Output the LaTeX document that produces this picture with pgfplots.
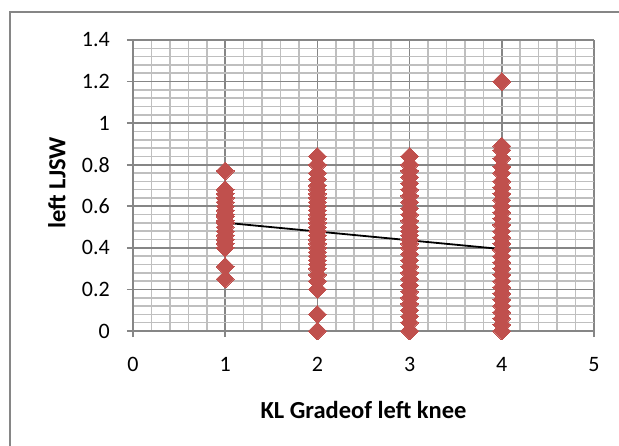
\documentclass[border=0pt]{standalone}
\usepackage{pgfplots}
\pgfplotsset{compat=1.18}
\usepackage{fontspec}
\setmainfont{Carlito}
\definecolor{mk}{HTML}{C0504D}
\definecolor{gmaj}{HTML}{868686}
\definecolor{gmin}{HTML}{BFBFBF}
\begin{document}
\begin{tikzpicture}
\useasboundingbox (-133bp,-115bp) rectangle (486bp,331bp);
\draw[gmaj, line width=1.5bp] (-123bp,-140bp) -- (-123bp,319bp) -- (520bp,319bp);
\begin{axis}[
  at={(0,0)}, anchor=south west,
  scale only axis, width=461bp, height=291bp,
  xmin=0, xmax=5, ymin=0, ymax=1.4,
  xtick={0,1,...,5}, ytick={0,0.2,...,1.4},
  minor x tick num=4, minor y tick num=4,
  grid=both,
  major grid style={gmaj, line width=1.6bp},
  minor grid style={gmin, line width=1.6bp},
  axis line style={gmaj, line width=1.6bp},
  axis lines*=left,
  tick align=outside, major tick length=6bp, minor tick length=0pt,
  tick style={gmaj, line width=1.6bp},
  /pgf/number format/assume math mode=true,
  yticklabel style={font=\fontsize{22bp}{26bp}\selectfont, anchor=east, inner sep=0pt, xshift=-17bp},
  xticklabel style={font=\fontsize{22bp}{26bp}\selectfont, anchor=north, inner sep=0pt, yshift=-20bp},
  xlabel={KL Gradeof left knee}, ylabel={left LJSW},
  xlabel style={font=\fontsize{24.5bp}{28bp}\selectfont\bfseries, at={(axis description cs:0.5,-0.271)}, anchor=center},
  ylabel style={font=\fontsize{24.5bp}{28bp}\selectfont\bfseries, at={(axis description cs:-0.165,0.509)}, anchor=center},
  clip=false,
]
\addplot[only marks, mark=square*, mark size=6.3bp, mark options={rotate=45, fill=mk, draw=mk, line width=0pt}] coordinates {
(1,0.77) (1,0.68) (1,0.66) (1,0.64) (1,0.62) (1,0.60) (1,0.58) (1,0.56) (1,0.55) (1,0.53)
(1,0.52) (1,0.50) (1,0.48) (1,0.46) (1,0.44) (1,0.42) (1,0.40) (1,0.31) (1,0.25)
(2,0.84) (2,0.80) (2,0.76) (2,0.73) (2,0.70) (2,0.68) (2,0.66) (2,0.64) (2,0.62) (2,0.60)
(2,0.58) (2,0.56) (2,0.54) (2,0.52) (2,0.50) (2,0.48) (2,0.46) (2,0.44) (2,0.42) (2,0.40)
(2,0.38) (2,0.36) (2,0.34) (2,0.32) (2,0.30) (2,0.27) (2,0.24) (2,0.20) (2,0.08) (2,0.00)
(3,0.84) (3,0.80) (3,0.77) (3,0.74) (3,0.71) (3,0.68) (3,0.65) (3,0.62) (3,0.59) (3,0.56)
(3,0.53) (3,0.50) (3,0.48) (3,0.46) (3,0.44) (3,0.42) (3,0.40) (3,0.37) (3,0.34) (3,0.31)
(3,0.28) (3,0.25) (3,0.22) (3,0.19) (3,0.16) (3,0.13) (3,0.10) (3,0.07) (3,0.04) (3,0.00)
(4,1.20) (4,0.89) (4,0.87) (4,0.83) (4,0.79) (4,0.76) (4,0.72) (4,0.69) (4,0.66) (4,0.63)
(4,0.60) (4,0.57) (4,0.54) (4,0.51) (4,0.48) (4,0.45) (4,0.42) (4,0.39) (4,0.36) (4,0.33)
(4,0.30) (4,0.27) (4,0.24) (4,0.21) (4,0.18) (4,0.15) (4,0.12) (4,0.09) (4,0.06) (4,0.03) (4,0.00)
};
\addplot[black, line width=1.8bp] coordinates {(1,0.521) (4,0.394)};
\end{axis}
\end{tikzpicture}
\end{document}
